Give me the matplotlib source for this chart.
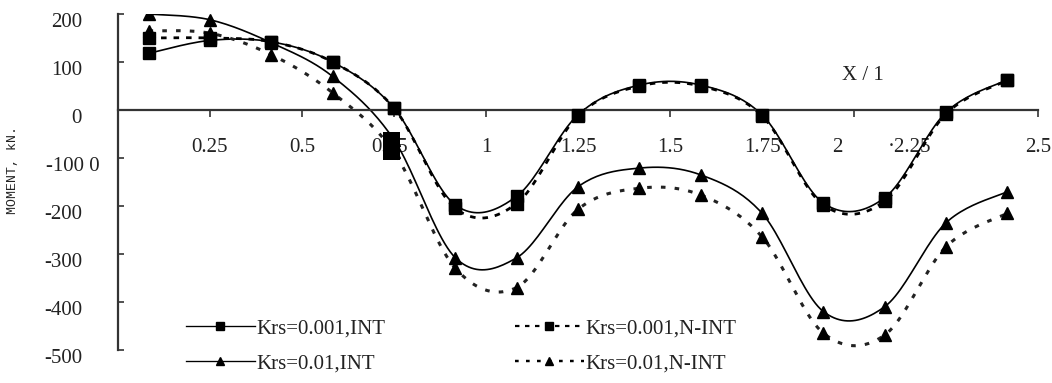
import numpy as np
import matplotlib
matplotlib.use("Agg")
import matplotlib.pyplot as plt
from matplotlib.lines import Line2D
from matplotlib.patches import Rectangle
import matplotlib.transforms as mtrans

# ---------------- data ----------------
x_over_l = [0.083, 0.25, 0.417, 0.583, 0.75, 0.917, 1.083, 1.25,
            1.417, 1.583, 1.75, 1.917, 2.083, 2.25, 2.417]
krs001_int = [118, 145, 142, 100, 4, -198, -180, -10, 52, 52, -10, -194, -183, -5, 63]
krs001_nint = [150, 150, 142, 100, 4, -205, -195, -12, 50, 50, -12, -198, -190, -8, 62]
krs01_int = [200, 188, 140, 70, -62, -308, -308, -160, -121, -135, -215, -420, -410, -235, -170]
krs01_nint = [165, 160, 115, 36, -88, -330, -370, -207, -163, -177, -264, -465, -469, -285, -215]

series_labels = ["Krs=0.001,INT", "Krs=0.001,N-INT", "Krs=0.01,INT", "Krs=0.01,N-INT"]

x_tick_values = [0.25, 0.5, 0.75, 1.0, 1.25, 1.5, 1.75, 2.0, 2.25, 2.5]
x_tick_labels = ["0.25", "0.5", "0.75", "1", "1.25", "1.5", "1.75", "2", "\u00b72.25", "2.5"]
y_tick_values = [200, 100, 0, -100, -200, -300, -400, -500]
y_tick_labels = ["200", "100", "0", "-100 0", "-200", "-300", "-400", "-500"]


def smooth(xs, ys, n=24):
    """Excel-like smoothed line (Catmull-Rom Bezier) through the points."""
    P = np.column_stack([xs, ys]).astype(float)
    Pext = np.vstack([P[0], P, P[-1]])
    out = []
    t = np.linspace(0, 1, n)[:, None]
    for i in range(len(P) - 1):
        p0, p1, p2, p3 = Pext[i], Pext[i + 1], Pext[i + 2], Pext[i + 3]
        c1 = p1 + (p2 - p0) / 6.0
        c2 = p2 - (p3 - p1) / 6.0
        seg = ((1 - t) ** 3) * p1 + 3 * ((1 - t) ** 2) * t * c1 + 3 * (1 - t) * t ** 2 * c2 + t ** 3 * p2
        out.append(seg if i == 0 else seg[1:])
    s = np.vstack(out)
    return s[:, 0], s[:, 1]


W, H = 1052, 383
fig = plt.figure(figsize=(W / 100, H / 100), dpi=100)
fig.patch.set_facecolor("white")
ax = fig.add_axes([118 / W, 33 / H, 920 / W, 336 / H])
ax.set_xlim(0, 2.5)
ax.set_ylim(-500, 200)

serif = ["Liberation Serif", "DejaVu Serif"]
fs = 15

styles = [
    dict(data=krs001_int, ls="-", lw=1.2, marker="s", ms=8, color="black"),
    dict(data=krs001_nint, ls=(0, (2, 2.5)), lw=2.0, marker="s", ms=8, color="black"),
    dict(data=krs01_int, ls="-", lw=1.2, marker="^", ms=9, color="black"),
    dict(data=krs01_nint, ls=(0, (1.5, 3)), lw=2.2, marker="^", ms=9, color="#222222"),
]
handles = []
for st, lab in zip(styles, series_labels):
    sx, sy = smooth(x_over_l, st["data"])
    ax.plot(sx, sy, ls=st["ls"], lw=st["lw"], color=st["color"], zorder=2)
    ax.plot(x_over_l, st["data"], ls="none", marker=st["marker"], ms=st["ms"],
            color="black", zorder=3)
    handles.append(Line2D([], [], ls=st["ls"], lw=st["lw"] * 0.8, color="black",
                          marker=st["marker"], ms=st["ms"] * 0.7, label=lab))

# spines
for s in ["top", "right"]:
    ax.spines[s].set_visible(False)
ax.spines["bottom"].set_position(("data", 0))
for s in ["bottom", "left"]:
    ax.spines[s].set_linewidth(1.6)
    ax.spines[s].set_color("#333333")

ax.set_xticks(x_tick_values)
ax.set_xticklabels(x_tick_labels, fontfamily=serif, fontsize=fs, color="#222222")
ax.set_yticks(y_tick_values)
ax.set_yticklabels(y_tick_labels, fontfamily=serif, fontsize=fs, color="#222222")
ax.tick_params(axis="x", direction="out", length=5, width=1.2, color="#333333", pad=15)
ax.tick_params(axis="y", direction="in", length=4, width=1.2, color="#333333", pad=26)

# small positional quirks of labels in the original
x_shift_px = {"2": -17, "\u00b72.25": -36, "0.75": -4}
for lbl in ax.get_xticklabels():
    dx = x_shift_px.get(lbl.get_text(), 0)
    if dx:
        lbl.set_transform(lbl.get_transform() + mtrans.ScaledTranslation(dx / 100, 0, fig.dpi_scale_trans))
for lbl in ax.get_yticklabels():
    dx = 18 if lbl.get_text() == "-100 0" else 0
    lbl.set_transform(lbl.get_transform() + mtrans.ScaledTranslation(dx / 100, -6 / 100, fig.dpi_scale_trans))

ax.text(863 / W, 1 - 75 / H, "X / 1", transform=fig.transFigure, ha="center", va="center",
        fontfamily=serif, fontsize=fs, color="#222222")
fig.text(13 / W, 1 - 170 / H, "MOMENT, kN.", rotation=90, ha="center", va="center",
         fontfamily=["Liberation Mono", "DejaVu Sans Mono"], fontsize=9.5, color="#222222")

# column-wise fill: col 1 = INT, col 2 = N-INT
leg = fig.legend(handles=[handles[0], handles[2], handles[1], handles[3]], ncol=2,
                 loc="upper left", bbox_to_anchor=(186 / W, 1 - 319 / H),
                 frameon=False, prop={"family": serif, "size": fs},
                 handlelength=3.3, handletextpad=0.1, columnspacing=6.2,
                 labelspacing=0.72, borderpad=0, borderaxespad=0)
for t in leg.get_texts():
    t.set_color("#222222")

# black blot present in the original figure
fig.patches.append(Rectangle((383 / W, 1 - 160 / H), 17 / W, 28 / H,
                             transform=fig.transFigure, facecolor="black",
                             edgecolor="none", zorder=5))

fig.savefig("out.png", dpi=100)
